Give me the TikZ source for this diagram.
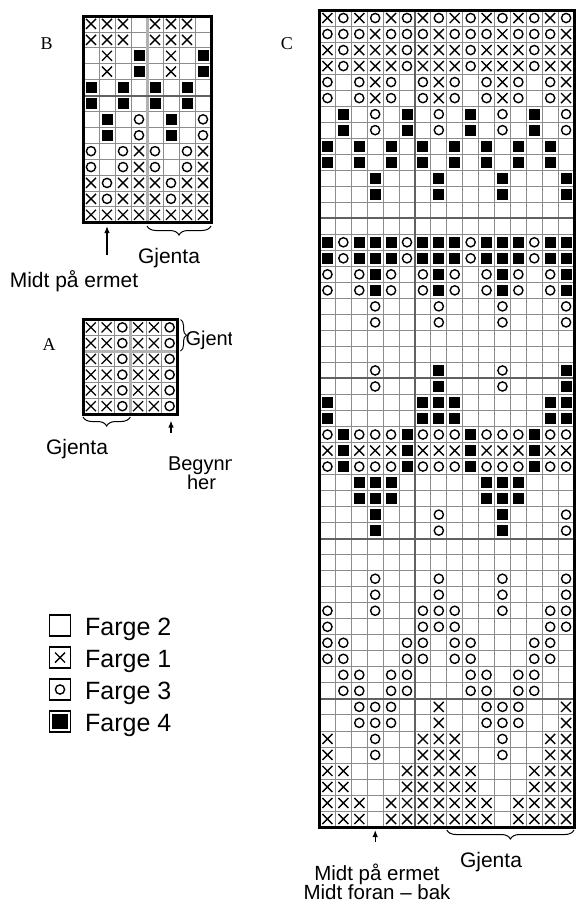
\documentclass[tikz,border=0pt]{standalone}
\usepackage{fontspec}
\setmainfont{Liberation Sans}
\newfontfamily\seriffont{Liberation Serif}
\usetikzlibrary{arrows.meta,decorations.pathreplacing}

\tikzset{
  gridline/.style={line width=0.8pt, draw=black!45},
  groupdark/.style={line width=2pt, draw=black!62},
  grouplight/.style={line width=3pt, draw=black!30},
  chartborder/.style={line width=3pt, draw=black},
  sym/.style={line width=1.4pt},
  kx/.pic={\draw[sym] (-5,-5)--(5,5) (-5,5)--(5,-5);},
  ko/.pic={\draw[sym] (0,0) circle (4.6pt);},
  kb/.pic={\fill (-5.5,-5.5) rectangle (5.5,5.5);},
  lbl/.style={font=\fontsize{21}{21}\selectfont, inner sep=0pt},
  botlbl/.style={font=\fontsize{20.5}{20.5}\selectfont, inner sep=0pt},
  smalllbl/.style={font=\fontsize{20}{20}\selectfont, inner sep=0pt},
  leglbl/.style={font=\fontsize{25}{25}\selectfont, inner sep=0pt, anchor=base west},
  chartletter/.style={font=\seriffont\fontsize{18}{18}\selectfont, inner sep=0pt, anchor=base},
  upnote/.style={line width=1.3pt, -{Latex[length=7pt,width=5.5pt]}},
  gbrace/.style={line width=1pt, decorate, decoration={brace, amplitude=#1}},
  legbox/.style={line width=1.2pt, draw=black},
}

% #1 x0, #2 y0, #3 cell width, #4 row height, #5 period, #6 repeats, #7 rows
\newcommand\knitsyms[7]{%
  \foreach \row [count=\r] in {#7} {%
    \foreach \s [count=\c] in \row {%
      \foreach \k in {1,...,#6} {%
        \pgfmathsetmacro\cx{#1+((\k-1)*#5+\c-0.5)*#3}%
        \pgfmathsetmacro\cy{#2+(\r-0.5)*#4}%
        \if x\s\pic at (\cx,\cy) {kx};\fi
        \if o\s\pic at (\cx,\cy) {ko};\fi
        \if b\s\pic at (\cx,\cy) {kb};\fi
      }%
    }%
  }%
}
% #1 x0, #2 y0, #3 cw, #4 rh, #5 ncols-1, #6 nrows-1, #7 ncols, #8 nrows
\newcommand\knitgrid[8]{%
  \foreach \i in {1,...,#5} {\draw[gridline] ({#1+\i*#3},#2) -- ({#1+\i*#3},{#2+#8*#4});}
  \foreach \j in {1,...,#6} {\draw[gridline] (#1,{#2+\j*#4}) -- ({#1+#7*#3},{#2+\j*#4});}
}

\begin{document}
\begin{tikzpicture}[x=1pt,y=-1pt]
\useasboundingbox[fill=white] (0,0) rectangle (576,903);

% ---------------- Chart B ----------------
\knitgrid{83}{16}{16}{15.9}{7}{12}{8}{13}
\draw[grouplight] (147,16) -- (147,222.7);
\draw[groupdark] (83,95.5) -- (211,95.5);
\knitsyms{83}{16}{16}{15.9}{4}{2}{%
  {x,x,x,-},{x,x,x,-},{-,x,-,b},{-,x,-,b},{b,-,b,-},{b,-,b,-},%
  {-,b,-,o},{-,b,-,o},{o,-,o,x},{o,-,o,x},{x,o,x,x},{x,o,x,x},{x,x,x,x}}
\draw[chartborder] (83,16) rectangle (211,222.7);
\node[chartletter] (letterB) at (46.7,49.5) {B};

\coordinate (arrBfoot) at (107,255);
\coordinate (arrBtip) at (107,226);
\draw[upnote] (arrBfoot) -- (arrBtip);
\coordinate (braceBr) at (211,226);
\coordinate (braceBl) at (147,226);
\draw[gbrace=9pt] (braceBr) -- (braceBl);
\node[lbl, anchor=base] (gjentaB) at (169,263.5) {Gjenta};
\node[lbl, anchor=base] (midtB) at (74,287.7) {Midt på ermet};

% ---------------- Chart A ----------------
\knitgrid{83}{319.5}{15.75}{15.75}{5}{5}{6}{6}
\draw[grouplight] (130.25,319.5) -- (130.25,414);
\draw[grouplight] (83,351) -- (177.5,351);
\knitsyms{83}{319.5}{15.75}{15.75}{3}{2}{%
  {x,x,o},{x,x,o},{x,x,o},{x,x,o},{x,x,o},{x,x,o}}
\draw[chartborder] (83,319.5) rectangle (177.5,414);
\node[chartletter] (letterA) at (49,350.7) {A};

\coordinate (braceAr) at (130.25,417);
\coordinate (braceAl) at (83,417);
\draw[gbrace=9pt] (braceAr) -- (braceAl);
\node[lbl, anchor=base] (gjentaA) at (77,454) {Gjenta};
\coordinate (arrAfoot) at (171,433);
\coordinate (arrAtip) at (171,420.5);
\draw[upnote] (arrAfoot) -- (arrAtip);
\coordinate (braceAt) at (180.5,319.5);
\coordinate (braceAb) at (180.5,351);
\draw[gbrace=6pt] (braceAt) -- (braceAb);
\begin{scope}
  \clip (140,300) rectangle (231.3,500);
  \node[smalllbl, anchor=base west] (gjentaAr) at (185.3,345) {Gjenta};
  \node[smalllbl, anchor=base west] (begynn) at (167.8,470.7) {Begynn};
  \node[smalllbl, anchor=base] (her) at (201.5,489) {her};
\end{scope}

% ---------------- Legend ----------------
\draw[legbox] (49.3,615) rectangle (70.7,636);
\node[leglbl] (f2) at (85,635) {Farge 2};
\draw[legbox] (49.3,647) rectangle (70.7,668);
\pic at (60,657.5) {kx};
\node[leglbl] (f1) at (85,667) {Farge 1};
\draw[legbox] (49.3,679) rectangle (70.7,700);
\pic at (60,689.5) {ko};
\node[leglbl] (f3) at (85,699) {Farge 3};
\draw[legbox] (49.3,711) rectangle (70.7,732);
\fill (52.3,714) rectangle (67.7,729);
\node[leglbl] (f4) at (85,731) {Farge 4};

% ---------------- Chart C ----------------
\knitgrid{319.5}{10}{15.91}{16.02}{15}{50}{16}{51}
\draw[groupdark] (414.96,10) -- (414.96,827.02);
\foreach \g in {13,23,33,43} {\draw[groupdark] (319.5,{10+\g*16.02}) -- (574.06,{10+\g*16.02});}
\knitsyms{319.5}{10}{15.91}{16.02}{8}{2}{%
  {x,o,x,o,x,o,x,o},{o,o,o,x,o,o,o,x},{x,o,x,x,x,o,x,x},{x,o,x,x,x,o,x,x},%
  {o,-,o,x,o,-,o,x},{o,-,o,x,o,-,o,x},{-,b,-,o,-,b,-,o},{-,b,-,o,-,b,-,o},%
  {b,-,b,-,b,-,b,-},{b,-,b,-,b,-,b,-},{-,-,-,b,-,-,-,b},{-,-,-,b,-,-,-,b},%
  {-,-,-,-,-,-,-,-},{-,-,-,-,-,-,-,-},%
  {b,o,b,b,b,o,b,b},{b,o,b,b,b,o,b,b},{o,-,o,b,o,-,o,b},{o,-,o,b,o,-,o,b},%
  {-,-,-,o,-,-,-,o},{-,-,-,o,-,-,-,o},{-,-,-,-,-,-,-,-},{-,-,-,-,-,-,-,-},%
  {-,-,-,o,-,-,-,b},{-,-,-,o,-,-,-,b},{b,-,-,-,-,-,b,b},{b,-,-,-,-,-,b,b},%
  {o,b,o,o,o,b,o,o},{x,b,x,x,x,b,x,x},{o,b,o,o,o,b,o,o},%
  {-,-,b,b,b,-,-,-},{-,-,b,b,b,-,-,-},{-,-,-,b,-,-,-,o},{-,-,-,b,-,-,-,o},%
  {-,-,-,-,-,-,-,-},{-,-,-,-,-,-,-,-},{-,-,-,o,-,-,-,o},{-,-,-,o,-,-,-,o},%
  {o,-,-,o,-,-,o,o},{o,-,-,-,-,-,o,o},{o,o,-,-,-,o,o,-},{o,o,-,-,-,o,o,-},%
  {-,o,o,-,o,o,-,-},{-,o,o,-,o,o,-,-},{-,-,o,o,o,-,-,x},{-,-,o,o,o,-,-,x},%
  {x,-,-,o,-,-,x,x},{x,-,-,o,-,-,x,x},{x,x,-,-,-,x,x,x},{x,x,-,-,-,x,x,x},%
  {x,x,x,-,x,x,x,x},{x,x,x,-,x,x,x,x}}
\draw[chartborder] (319.5,10) rectangle (574.06,827.02);
\node[chartletter] (letterC) at (287,49.5) {C};

\coordinate (arrCfoot) at (375.2,842);
\coordinate (arrCtip) at (375.2,830);
\draw[upnote] (arrCfoot) -- (arrCtip);
\coordinate (braceCr) at (574,830);
\coordinate (braceCl) at (446.8,830);
\draw[gbrace=9pt] (braceCr) -- (braceCl);
\node[lbl, anchor=base] (gjentaC) at (491,867) {Gjenta};
\node[botlbl, anchor=base] (midtC1) at (377,880) {Midt på ermet};
\node[botlbl, anchor=base] (midtC2) at (377,899.8) {Midt foran – bak};
\end{tikzpicture}
\end{document}
